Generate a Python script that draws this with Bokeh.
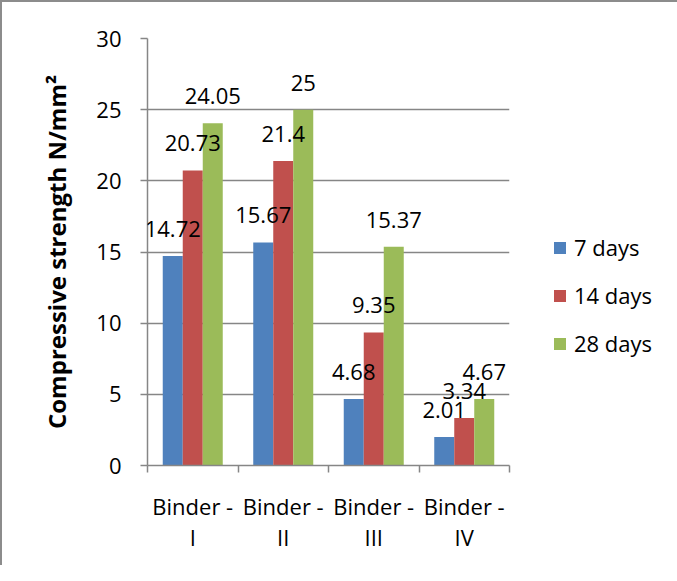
from bokeh.plotting import figure
from bokeh.models import (ColumnDataSource, Range1d, FixedTicker, LabelSet, Legend, LegendItem)
from bokeh.core.properties import value
from bokeh.transform import dodge
from bokeh.embed import file_html
from bokeh.resources import INLINE

binders = ["Binder - I", "Binder - II", "Binder - III", "Binder - IV"]
tick_labels = ["Binder -\nI", "Binder -\nII", "Binder -\nIII", "Binder -\nIV"]
series_names = ["7 days", "14 days", "28 days"]
days7 = [14.72, 15.67, 4.68, 2.01]
days14 = [20.73, 21.4, 9.35, 3.34]
days28 = [24.05, 25, 15.37, 4.67]
y_ticks = [0, 5, 10, 15, 20, 25, 30]
y_title = "Compressive strength N/mm\u00b2"

colors = ["#4F81BD", "#C0504D", "#9BBB59"]
FONT = "Open Sans"
GRID = "#868686"

n = len(binders)
centres = [i + 0.5 for i in range(n)]
edges = list(range(n + 1))

src = ColumnDataSource(dict(binder=binders, pos=centres, d7=days7, d14=days14, d28=days28,
                            t7=[str(v) for v in days7], t14=[str(v) for v in days14],
                            t28=[str(v) for v in days28]))

p = figure(x_range=Range1d(0, n), y_range=Range1d(0, 30),
           output_backend="svg", toolbar_location=None,
           frame_width=362, frame_height=427,
           min_border_left=145, min_border_top=36, min_border_right=150, min_border_bottom=100)
p.styles = {"border-top": "2px solid #8c8c8c", "border-left": "2px solid #8c8c8c"}
p.outline_line_color = None
p.background_fill_color = "white"
p.border_fill_color = "white"

# y axis
ya = p.yaxis[0]
ya.ticker = FixedTicker(ticks=y_ticks)
ya.axis_line_color = GRID
ya.axis_line_width = 1.5
ya.major_tick_line_color = GRID
ya.major_tick_line_width = 1.5
ya.major_tick_out = 7
ya.major_tick_in = 0
ya.minor_tick_line_color = None
ya.major_label_text_font = FONT
ya.major_label_text_font_size = "22px"
ya.major_label_text_color = "black"
ya.major_label_standoff = 19
ya.axis_label = y_title
ya.axis_label_text_font = FONT
ya.axis_label_text_font_size = "24px"
ya.axis_label_text_font_style = "bold"
ya.axis_label_text_color = "black"
ya.axis_label_standoff = 20

p.xgrid.grid_line_color = None
p.ygrid.grid_line_color = GRID
p.ygrid.grid_line_width = 1.5
p.ygrid.ticker = FixedTicker(ticks=y_ticks)

# x axis: labels at category centres, tick marks on category edges
xa = p.xaxis[0]
xa.ticker = FixedTicker(ticks=centres, minor_ticks=edges)
xa.axis_line_color = GRID
xa.axis_line_width = 1.5
xa.major_tick_line_color = None
xa.major_tick_out = 0
xa.major_tick_in = 0
xa.minor_tick_line_color = GRID
xa.minor_tick_line_width = 1.5
xa.minor_tick_out = 7
xa.minor_tick_in = 0
xa.major_label_overrides = dict(zip(centres, tick_labels))
xa.major_label_text_font = FONT
xa.major_label_text_font_size = "22px"
xa.major_label_text_color = "black"
xa.major_label_text_line_height = 1.05
xa.major_label_standoff = 18

bw = 0.221
cols = ["d7", "d14", "d28"]
tcols = ["t7", "t14", "t28"]
offsets = [-bw, 0, bw]
items = []
for col, tcol, off, c, name in zip(cols, tcols, offsets, colors, series_names):
    r = p.vbar(x=dodge("pos", off), top=col, width=bw, bottom=0,
               source=src, fill_color=c, line_color=None)
    items.append(LegendItem(label=name, renderers=[r]))
    lab = LabelSet(x=dodge("pos", off), y=col, text=tcol, source=src,
                   text_align="center", text_baseline="alphabetic", y_offset=19,
                   text_font=value(FONT), text_font_size="22px", text_color="black")
    p.add_layout(lab)

legend = Legend(items=items, location=(43, 107))
legend.border_line_color = None
legend.background_fill_alpha = 0
legend.padding = 0
legend.margin = 0
legend.glyph_width = 15
legend.glyph_height = 15
legend.label_standoff = 7
legend.spacing = 18
legend.label_text_font = FONT
legend.label_text_font_size = "22px"
legend.label_text_color = "black"
p.add_layout(legend, "right")

open("out.html", "w").write(file_html(p, INLINE))
